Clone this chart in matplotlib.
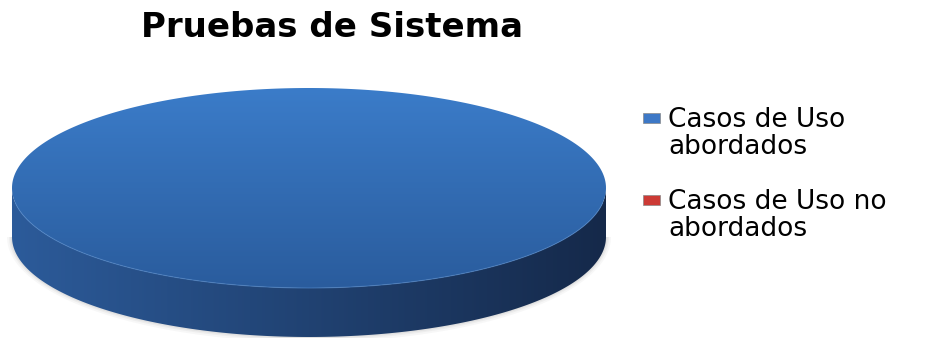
import numpy as np
import matplotlib
matplotlib.use('Agg')
import matplotlib.pyplot as plt
from matplotlib.patches import Polygon, Rectangle
from matplotlib.colors import LinearSegmentedColormap

plt.rcParams['font.family'] = ['DejaVu Sans']

title = 'Pruebas de Sistema'
labels = ['Casos de Uso\nabordados', 'Casos de Uso no\nabordados']
values = [100, 0]
top_colors = [('#3b7cc9', '#2a5c9d'), ('#d9413b', '#a8231f')]
side_colors = [('#2c5b9a', '#15294a'), ('#b52c27', '#5e1210')]
legend_colors = ['#3d78c6', '#cc3a35']

fig = plt.figure(figsize=(9.31, 3.38), dpi=100)
ax = fig.add_axes([0, 0, 1, 1])
ax.set_xlim(0, 931)
ax.set_ylim(338, 0)
ax.axis('off')

# pie geometry (pixel space)
cx, cy, rx, ry, depth = 309, 188, 297, 100, 49


def grad(ax, poly, c0, c1, extent, horizontal):
    cmap = LinearSegmentedColormap.from_list('g', [c0, c1])
    g = np.linspace(0, 1, 256)
    img = g[None, :] if horizontal else g[:, None]
    im = ax.imshow(img, cmap=cmap, extent=extent, aspect='auto',
                   origin='upper', zorder=poly.get_zorder())
    im.set_clip_path(poly)


# soft shadow under the disc
sh = np.linspace(0, np.pi, 200)
for k, a in [(5, 0.06), (3, 0.08), (1.5, 0.1)]:
    ax.fill(np.r_[cx + (rx + k) * np.cos(sh), cx - rx],
            np.r_[cy + depth + (ry + k) * np.sin(sh), cy + depth],
            color='gray', alpha=a, lw=0, zorder=1)

fracs = np.array(values, dtype=float) / sum(values)
start = -np.pi / 2
for i, f in enumerate(fracs):
    if f <= 0:
        continue
    t = np.linspace(start, start + 2 * np.pi * f, 400)
    start += 2 * np.pi * f
    # side (front half only)
    ts = t[(np.sin(t) >= 0)]
    ts = np.sort(np.concatenate([ts, np.linspace(0, np.pi, 200)])) if f >= 1 else ts
    xs = cx + rx * np.cos(ts)
    ys = cy + ry * np.sin(ts)
    side = np.vstack([np.column_stack([xs, ys]),
                      np.column_stack([xs[::-1], ys[::-1] + depth])])
    sp = Polygon(side, closed=True, facecolor='none', edgecolor='none', zorder=2)
    ax.add_patch(sp)
    grad(ax, sp, side_colors[i][0], side_colors[i][1],
         (cx - rx, cx + rx, cy + ry + depth, cy), True)
    # top face
    pts = np.column_stack([cx + rx * np.cos(t), cy + ry * np.sin(t)])
    if f < 1:
        pts = np.vstack([[cx, cy], pts])
    tp = Polygon(pts, closed=True, facecolor='none', edgecolor='none', zorder=3)
    ax.add_patch(tp)
    grad(ax, tp, top_colors[i][0], top_colors[i][1],
         (cx - rx, cx + rx, cy + ry, cy - ry), False)
    front = np.linspace(0.15, np.pi - 0.15, 200)
    ax.plot(cx + rx * np.cos(front), cy + ry * np.sin(front),
            color='#4f86c9', lw=0.8, alpha=0.6, zorder=4)

ax.text(332, 37, title, fontsize=24.5, fontweight='bold', ha='center',
        va='baseline', color='black')

# legend
ly = [127, 209]
for lab, col, y in zip(labels, legend_colors, ly):
    ax.add_patch(Rectangle((643, y - 14), 17, 10, facecolor=col,
                           edgecolor='#8a8a8a', lw=0.5, zorder=5))
    for j, line in enumerate(lab.split('\n')):
        ax.text(668, y + 27.5 * j, line, fontsize=19, va='baseline', ha='left',
                color='black')

fig.savefig('out.png', dpi=100)
